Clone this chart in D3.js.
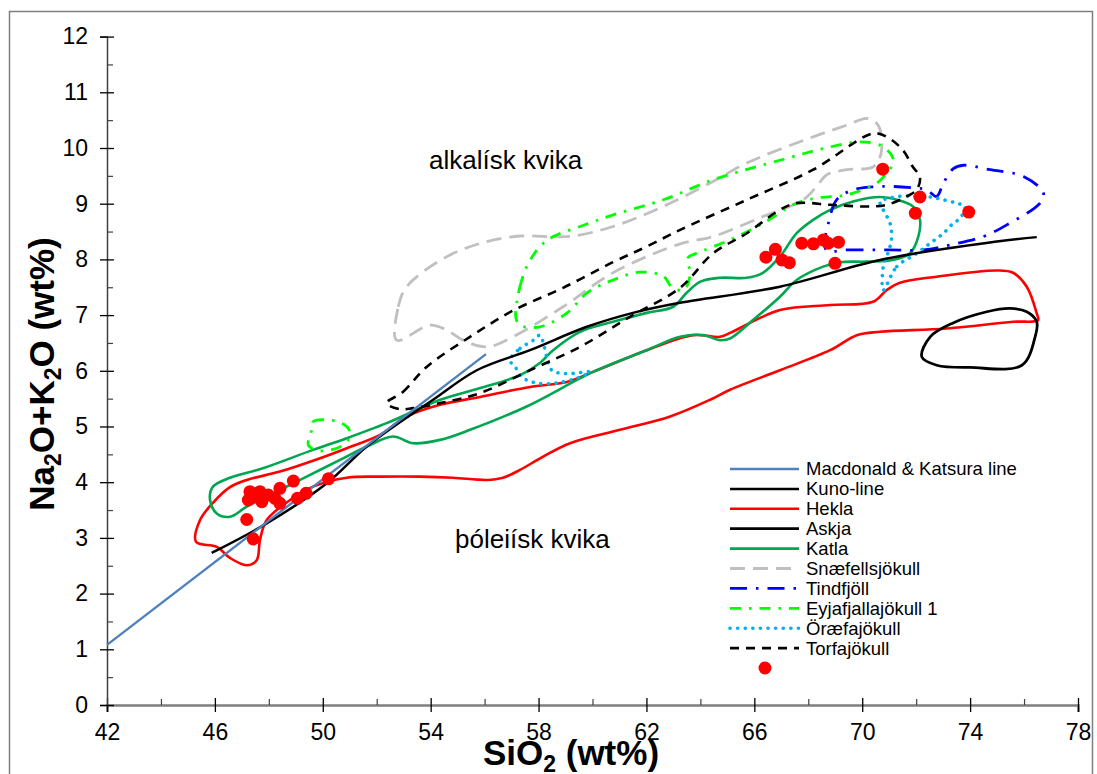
<!DOCTYPE html>
<html><head><meta charset="utf-8">
<script src="https://cdn.jsdelivr.net/npm/d3@7"></script>
<style>
body{margin:0;background:#fff;}
svg{display:block;}
text{font-family:"Liberation Sans",Arial,sans-serif;}
</style></head>
<body><svg id="c" width="1097" height="774"></svg>
<script>
// ---- axis ticks ----
const xTicks = [42,46,50,54,58,62,66,70,74,78];
const xMinor = [44,48,52,56,60,64,68,72,76];
const yTicks = [0,1,2,3,4,5,6,7,8,9,10,11,12];
const yMinor = [0.5,1.5,2.5,3.5,4.5,5.5,6.5,7.5,8.5,9.5,10.5,11.5];

// ---- reference lines (SiO2, Na2O+K2O) ----
const macdonaldKatsura = [[42,1.08],[56.05,6.3]];
const kuno = [[45.88,2.73],[47.92,3.26],[50.15,3.98],[51.63,4.64],[53.35,5.24],[54.09,5.48],[55.71,6.01],[57.68,6.37],[59.79,6.79],[61.5,7.04],[63.24,7.22],[66.95,7.51],[70.66,7.99],[74.99,8.32],[76.47,8.40]];

// ---- volcano fields (closed outlines) ----
const hekla = [[45.30,2.93],[45.45,3.32],[45.93,3.63],[46.56,3.91],[47.18,4.04],[48.41,4.19],[49.90,4.43],[50.89,4.61],[52.12,4.85],[53.11,5.18],[54.35,5.39],[55.83,5.53],[57.68,5.71],[59.05,5.80],[60.02,5.98],[62.01,6.37],[63.73,6.64],[64.73,6.61],[65.10,6.68],[66.95,7.09],[68.81,7.18],[70.40,7.24],[70.91,7.45],[71.40,7.58],[72.76,7.69],[74.99,7.80],[75.59,7.76],[76.10,7.51],[76.47,7.03],[76.52,6.91],[75.59,6.88],[73.13,6.76],[70.66,6.70],[69.80,6.64],[68.81,6.37],[66.95,6.01],[65.10,5.66],[64.36,5.48],[62.88,5.18],[61.02,4.94],[59.17,4.70],[58.17,4.46],[57.31,4.22],[56.68,4.08],[56.08,4.04],[54.83,4.08],[53.61,4.10],[52.12,4.10],[50.89,4.08],[49.64,3.92],[48.79,3.68],[47.92,3.32],[47.67,2.96],[47.55,2.60],[47.18,2.51],[46.56,2.64],[46.07,2.84]];
const askja = [[72.21,6.25],[72.52,6.61],[73.37,6.86],[74.62,7.06],[75.48,7.12],[76.10,7.06],[76.47,6.88],[76.41,6.61],[75.92,6.10],[74.00,6.06],[72.76,6.10]];
const katla = [[45.82,3.68],[45.93,3.92],[46.56,4.08],[47.78,4.25],[49.64,4.58],[50.89,4.79],[52.37,5.06],[53.35,5.27],[54.35,5.48],[55.83,5.69],[57.31,5.92],[58.05,6.14],[58.54,6.37],[59.54,6.70],[60.76,6.88],[62.01,7.04],[62.99,7.15],[63.49,7.40],[64.00,7.60],[64.73,7.67],[65.72,7.67],[66.32,7.76],[66.95,8.05],[67.57,8.47],[68.18,8.71],[68.81,8.89],[69.66,9.04],[70.66,9.12],[71.28,9.07],[71.88,8.95],[72.14,8.71],[72.08,8.41],[71.77,8.11],[71.14,7.99],[70.17,7.96],[69.18,7.95],[68.55,7.87],[67.57,7.63],[66.95,7.33],[65.95,6.91],[65.10,6.58],[64.73,6.55],[64.10,6.64],[63.25,6.61],[62.01,6.37],[60.02,5.98],[57.56,5.36],[55.46,4.94],[54.35,4.76],[53.35,4.70],[52.60,4.82],[51.63,4.64],[50.64,4.40],[49.40,4.10],[48.41,3.86],[47.18,3.56],[46.56,3.38],[46.07,3.44]];
const snaefellsjokull = [[52.74,6.55],[52.80,7.15],[53.11,7.51],[54.60,8.05],[56.08,8.32],[57.31,8.42],[58.30,8.41],[59.28,8.42],[60.76,8.59],[62.62,8.95],[64.47,9.40],[65.72,9.73],[68.18,10.20],[69.43,10.41],[70.17,10.53],[70.54,10.44],[70.72,10.20],[70.66,9.84],[70.40,9.66],[69.43,9.61],[68.69,9.52],[68.31,9.31],[67.81,9.07],[66.32,8.77],[64.47,8.41],[63.25,8.28],[60.76,7.76],[58.91,7.15],[57.05,6.61],[56.08,6.43],[55.20,6.55],[54.60,6.73],[53.98,6.82]];
const tindfjoll = [[68.66,8.17],[69.42,8.17],[71.03,8.17],[72.27,8.17],[73.26,8.26],[74.49,8.41],[75.36,8.62],[76.59,9.01],[76.72,9.19],[75.98,9.49],[74.74,9.61],[73.75,9.69],[73.38,9.63],[73.01,9.37],[72.76,9.13],[72.39,9.25],[72.02,9.28],[70.78,9.31],[69.67,9.25],[69.05,9.07],[68.81,8.77]];
const eyjafjallajokullA = [[57.19,7.21],[57.31,7.51],[57.56,7.87],[58.05,8.23],[58.55,8.41],[59.54,8.59],[60.77,8.80],[62.63,9.07],[64.47,9.43],[66.95,9.78],[68.81,10.02],[69.92,10.11],[70.66,10.05],[71.09,9.87],[71.15,9.73],[70.91,9.55],[70.54,9.37],[69.43,9.16],[68.44,9.11],[67.57,9.01],[66.33,8.65],[65.10,8.35],[63.86,8.11],[63.54,8.03],[63.62,7.72],[63.39,7.45],[62.95,7.50],[62.62,7.70],[61.76,7.77],[60.76,7.63],[59.80,7.40],[59.06,7.04],[58.05,6.79],[57.31,6.82],[57.16,6.95]];
const eyjafjallajokullB = [[49.56,4.88],[49.65,5.09],[50.52,5.09],[50.98,4.94],[50.95,4.76],[50.52,4.61],[49.78,4.57],[49.46,4.67]];
const oraefajokullA = [[56.94,6.19],[57.31,6.40],[57.81,6.55],[58.05,6.64],[58.18,6.49],[58.30,6.25],[58.49,6.01],[59.04,5.95],[59.91,5.98],[59.54,5.89],[58.67,5.78],[57.93,5.78],[57.44,5.87],[57.13,6.07]];
const oraefajokullB = [[70.78,7.45],[71.28,7.87],[72.02,8.11],[72.52,8.29],[73.01,8.47],[73.38,8.65],[73.63,8.74],[73.81,8.95],[73.50,9.01],[73.01,9.07],[72.52,9.12],[72.02,9.13],[71.53,9.14],[71.03,9.10],[70.66,9.04],[70.78,8.89],[71.03,8.65],[71.09,8.41],[71.03,8.23],[70.91,8.05],[70.78,7.87]];
const torfajokull = [[52.37,5.42],[52.97,5.62],[53.85,6.07],[55.46,6.61],[57.05,7.08],[58.91,7.49],[60.76,7.95],[62.01,8.23],[63.25,8.53],[65.72,9.07],[68.18,9.61],[70.40,10.26],[70.91,10.20],[71.51,9.96],[71.88,9.66],[72.14,9.48],[72.02,9.25],[71.65,9.13],[70.91,8.98],[70.17,8.95],[68.81,8.98],[67.57,9.01],[66.95,8.89],[65.72,8.47],[64.47,8.11],[63.25,7.49],[61.39,6.97],[59.54,6.43],[57.68,6.01],[55.83,5.60],[54.35,5.42],[53.35,5.33],[52.86,5.31]];

// ---- samples (red dots) ----
const samplesSiO2 = [70.76,72.14,71.97,73.95,66.43,66.78,67.02,67.30,67.76,68.19,68.56,68.74,69.12,68.99,47.18,47.42,47.30,47.67,47.24,47.49,47.74,47.98,48.23,48.41,48.41,48.91,49.06,49.38,50.21];
const samplesAlk  = [9.62,9.12,8.83,8.85,8.04,8.18,7.99,7.94,8.29,8.28,8.35,8.29,8.31,7.93,3.33,2.98,3.83,3.83,3.68,3.74,3.65,3.77,3.71,3.62,3.89,4.02,3.71,3.80,4.06];

// ---- legend ----
const legendNames = ["Macdonald & Katsura line","Kuno-line","Hekla","Askja","Katla","Snæfellsjökull","Tindfjöll","Eyjafjallajökull 1","Öræfajökull","Torfajökull"];

const svg = d3.select("#c");
const x = d3.scaleLinear().domain([42,78]).range([107,1078]);
const y = d3.scaleLinear().domain([0,12]).range([705,36.6]);

// outer frame
svg.append("rect").attr("x",9.5).attr("y",11.5).attr("width",1083).attr("height",790)
  .attr("fill","none").attr("stroke","#7f7f7f").attr("stroke-width",1.5);

// axes
const gx = svg.append("g").attr("transform","translate(0,705)");
gx.call(d3.axisBottom(x).tickValues(xTicks).tickSize(7).tickFormat(d3.format("d")));
gx.selectAll(".tick line").attr("y1",-7).attr("stroke","#000").attr("stroke-width",1.3);
gx.selectAll(".tick text").attr("y",19).attr("font-size",23).attr("fill","#000").attr("font-family","Liberation Sans, Arial, sans-serif");
gx.select(".domain").attr("stroke","#7f7f7f").attr("stroke-width",2.5);
const gxm = svg.append("g").attr("transform","translate(0,705)");
gxm.call(d3.axisBottom(x).tickValues(xMinor).tickSize(-6).tickFormat(""));
gxm.select(".domain").remove();
gxm.selectAll(".tick line").attr("stroke","#404040").attr("stroke-width",1.2);

const gy = svg.append("g").attr("transform","translate(107,0)");
gy.call(d3.axisLeft(y).tickValues(yTicks).tickSize(7).tickFormat(d3.format("d")));
gy.selectAll(".tick line").attr("x1",7).attr("stroke","#000").attr("stroke-width",1.3);
gy.selectAll(".tick text").attr("x",-19).attr("font-size",23).attr("fill","#000").attr("font-family","Liberation Sans, Arial, sans-serif");
gy.select(".domain").attr("stroke","#404040").attr("stroke-width",1.5);
const gym = svg.append("g").attr("transform","translate(107,0)");
gym.call(d3.axisLeft(y).tickValues(yMinor).tickSize(-6).tickFormat(""));
gym.select(".domain").remove();
gym.selectAll(".tick line").attr("stroke","#404040").attr("stroke-width",1.2);

// styles
const styles = {
  mk:{stroke:"#4f81bd",w:2.4,dash:null},
  kuno:{stroke:"#000",w:2.5,dash:null},
  hekla:{stroke:"#ff0000",w:2.6,dash:null},
  askja:{stroke:"#000",w:2.8,dash:null},
  katla:{stroke:"#00a650",w:2.6,dash:null},
  snae:{stroke:"#c0c0c0",w:2.8,dash:"15,8"},
  tind:{stroke:"#0000ff",w:2.8,dash:"17,9,2.5,9"},
  eyja:{stroke:"#00ff00",w:2.8,dash:"11,8,2.5,8"},
  orae:{stroke:"#00b0f0",w:3.6,dash:"0.1,7.5",cap:"round"},
  torf:{stroke:"#000",w:2.6,dash:"9,7"}
};
const legendKeys = ["mk","kuno","hekla","askja","katla","snae","tind","eyja","orae","torf"];

const open = d3.line().x(d=>x(d[0])).y(d=>y(d[1])).curve(d3.curveCatmullRom.alpha(0.5));
const straight = d3.line().x(d=>x(d[0])).y(d=>y(d[1]));
const closed = d3.line().x(d=>x(d[0])).y(d=>y(d[1])).curve(d3.curveCatmullRomClosed.alpha(0.5));

const plot = svg.append("g");
function draw(gen, data, key){
  const s = styles[key];
  plot.append("path").attr("d",gen(data)).attr("fill","none")
    .attr("stroke",s.stroke).attr("stroke-width",s.w)
    .attr("stroke-dasharray",s.dash).attr("stroke-linecap",s.cap||"butt")
    .attr("stroke-linejoin","round");
}
draw(closed, hekla, "hekla");
draw(closed, askja, "askja");
draw(closed, katla, "katla");
draw(closed, snaefellsjokull, "snae");
draw(closed, tindfjoll, "tind");
draw(closed, eyjafjallajokullA, "eyja");
draw(closed, eyjafjallajokullB, "eyja");
draw(closed, oraefajokullA, "orae");
draw(closed, oraefajokullB, "orae");
draw(closed, torfajokull, "torf");
draw(open, kuno, "kuno");
draw(straight, macdonaldKatsura, "mk");

plot.selectAll("circle.s").data(samplesSiO2).enter().append("circle")
  .attr("cx",d=>x(d)).attr("cy",(d,i)=>y(samplesAlk[i])).attr("r",6.5).attr("fill","#ff0000");

// region labels
svg.append("text").attr("x",429).attr("y",169).text("alkalísk kvika")
  .attr("font-family","Lato, 'Open Sans', sans-serif").attr("font-size",26).attr("fill","#000");
svg.append("text").attr("x",455).attr("y",548).text("þóleiísk kvika")
  .attr("font-family","Lato, 'Open Sans', sans-serif").attr("font-size",26).attr("fill","#000");

// legend
const lg = svg.append("g");
legendKeys.forEach((k,i)=>{
  const s = styles[k], yy = 469 + i*19.9;
  lg.append("line").attr("x1",730).attr("x2",799).attr("y1",yy).attr("y2",yy)
    .attr("stroke",s.stroke).attr("stroke-width",s.w).attr("stroke-dasharray",s.dash)
    .attr("stroke-linecap",s.cap||"butt");
  lg.append("text").attr("x",806).attr("y",yy).attr("dy","0.35em").attr("font-size",18.5).text(legendNames[i]);
});
lg.append("circle").attr("cx",765).attr("cy",668).attr("r",6.5).attr("fill","#ff0000");

// axis titles
const xt = svg.append("text").attr("x",571).attr("y",765).attr("text-anchor","middle")
  .attr("font-size",35).attr("font-weight","bold");
xt.append("tspan").text("SiO");
xt.append("tspan").attr("font-size",23).attr("dy",7).text("2");
xt.append("tspan").attr("dy",-7).text(" (wt%)");

const yt = svg.append("text").attr("transform","translate(54,374) rotate(-90)").attr("text-anchor","middle")
  .attr("font-size",35).attr("font-weight","bold");
yt.append("tspan").text("Na");
yt.append("tspan").attr("font-size",23).attr("dy",7).text("2");
yt.append("tspan").attr("dy",-7).text("O+K");
yt.append("tspan").attr("font-size",23).attr("dy",7).text("2");
yt.append("tspan").attr("dy",-7).text("O (wt%)");
</script></body></html>
